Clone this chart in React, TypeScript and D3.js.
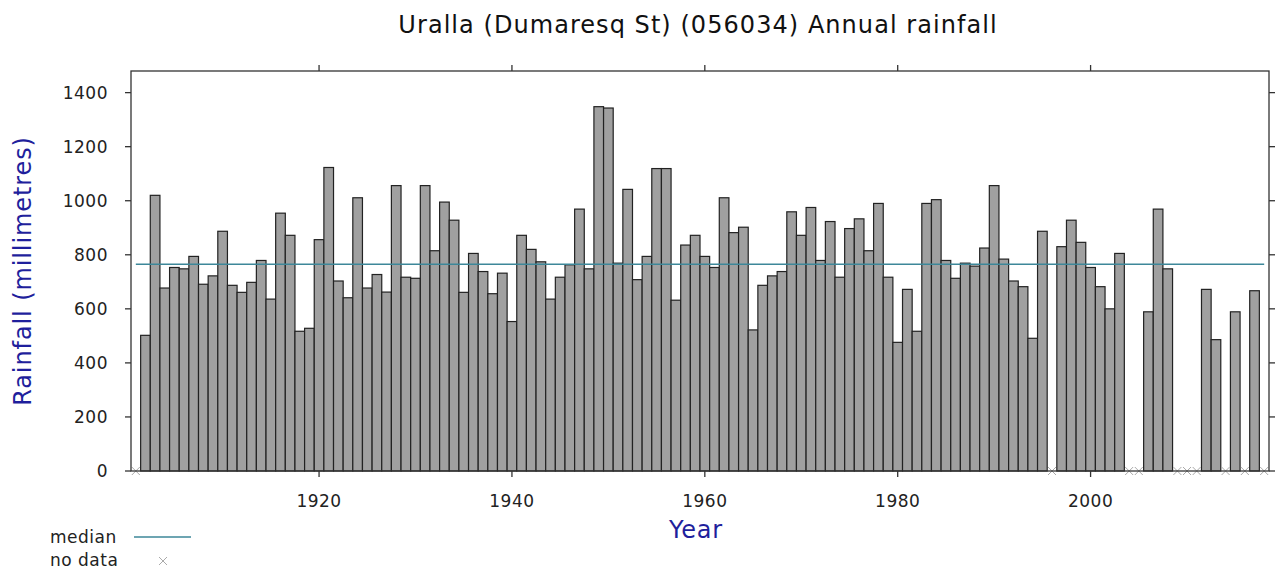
import * as d3 from 'd3';

const TITLE = 'Uralla (Dumaresq St) (056034) Annual rainfall';
const FIRST_YEAR = 1901;
// annual rainfall (mm), 1901..2018, null = no data
const RAINFALL: (number | null)[] = [
  null, 502, 1020, 677, 753, 748, 794, 691, 722, 887,
  687, 661, 698, 779, 636, 954, 872, 517, 528, 856,
  1123, 703, 641, 1011, 677, 727, 662, 1056, 717, 713,
  1056, 815, 995, 928, 661, 805, 738, 656, 732, 553,
  872, 820, 774, 636, 717, 763, 969, 748, 1348, 1343,
  769, 1042, 708, 794, 1119, 1119, 632, 836, 872, 794,
  753, 1011, 882, 902, 522, 687, 722, 738, 959, 872,
  975, 779, 923, 717, 897, 933, 815, 990, 717, 476,
  672, 517, 990, 1004, 779, 713, 769, 758, 825, 1056,
  784, 703, 682, 491, 887, null, 830, 928, 846, 753,
  682, 600, 805, null, null, 589, 969, 748, null, null,
  null, 672, 486, null, 589, null, 667, null,
];
const MEDIAN = 765;
const X_TICKS = [1920, 1940, 1960, 1980, 2000];
const Y_TICKS = [0, 200, 400, 600, 800, 1000, 1200, 1400];

const W = 1276;
const H = 569;
const PLOT = { left: 131, right: 1269, top: 71, bottom: 471 };
const FONT = '"DejaVu Sans", Verdana, sans-serif';
const NAVY = '#1f1f9c';
const FRAME = '#333';

export default function App() {
  const data = RAINFALL.map((v, i) => ({ year: FIRST_YEAR + i, value: v }));
  const lastYear = FIRST_YEAR + RAINFALL.length - 1;

  const x = d3.scaleLinear().domain([FIRST_YEAR - 0.5, lastYear + 0.5]).range([PLOT.left, PLOT.right]);
  const y = d3.scaleLinear().domain([0, 1480]).range([PLOT.bottom, PLOT.top]);

  const present = data.filter((d) => d.value != null);
  const missing = data.filter((d) => d.value == null);

  const cross = (cx: number, cy: number, r: number) =>
    `M${cx - r},${cy - r}L${cx + r},${cy + r}M${cx - r},${cy + r}L${cx + r},${cy - r}`;

  const medianLine = d3.line<number>()
    .x((d) => x(d))
    .y(() => y(MEDIAN))([FIRST_YEAR, lastYear]);

  return (
    <svg
      width={W}
      height={H}
      style={{ position: 'absolute', left: 0, top: 0, background: '#fff' }}
      fontFamily={FONT}
    >
      <text x={698} y={33} textAnchor="middle" fontSize={24} letterSpacing={1.05} fill="#111">
        {TITLE}
      </text>

      {/* bars */}
      {present.map((d) => (
        <rect
          key={d.year}
          x={x(d.year - 0.5)}
          y={y(d.value as number)}
          width={x(d.year + 0.5) - x(d.year - 0.5)}
          height={y(0) - y(d.value as number)}
          fill="#a0a0a0"
          stroke="#222"
          strokeWidth={1.2}
        />
      ))}

      {/* median */}
      <path d={medianLine || ''} stroke="#3d8799" strokeWidth={1.6} fill="none" />

      {/* no data markers */}
      {missing.map((d) => (
        <path key={d.year} d={cross(x(d.year), y(0), 4)} stroke="#aaa" strokeWidth={1} fill="none" />
      ))}

      {/* frame */}
      <rect
        x={PLOT.left}
        y={PLOT.top}
        width={PLOT.right - PLOT.left}
        height={PLOT.bottom - PLOT.top}
        fill="none"
        stroke={FRAME}
        strokeWidth={1.3}
      />

      {/* x ticks */}
      {X_TICKS.map((t) => (
        <g key={t}>
          <line x1={x(t)} x2={x(t)} y1={PLOT.bottom} y2={PLOT.bottom + 6} stroke={FRAME} strokeWidth={1.3} />
          <line x1={x(t)} x2={x(t)} y1={PLOT.top} y2={PLOT.top - 6} stroke={FRAME} strokeWidth={1.3} />
          <text x={x(t)} y={507} textAnchor="middle" fontSize={17} letterSpacing={0.5} fill="#222">
            {t}
          </text>
        </g>
      ))}

      {/* y ticks */}
      {Y_TICKS.map((t) => (
        <g key={t}>
          <line x1={PLOT.left - 6} x2={PLOT.left} y1={y(t)} y2={y(t)} stroke={FRAME} strokeWidth={1.3} />
          <line x1={PLOT.right} x2={PLOT.right + 6} y1={y(t)} y2={y(t)} stroke={FRAME} strokeWidth={1.3} />
          <text x={108} y={y(t) + 6} textAnchor="end" fontSize={17} letterSpacing={0.5} fill="#222">
            {t}
          </text>
        </g>
      ))}

      {/* axis titles */}
      <text
        transform={`translate(31,${(PLOT.top + PLOT.bottom) / 2}) rotate(-90)`}
        textAnchor="middle"
        fontSize={24}
        letterSpacing={0.9}
        fill={NAVY}
      >
        Rainfall (millimetres)
      </text>
      <text x={696} y={538} textAnchor="middle" fontSize={24} letterSpacing={0.8} fill={NAVY}>
        Year
      </text>

      {/* legend */}
      <text x={50} y={543} fontSize={17} letterSpacing={0.5} fill="#222">median</text>
      <line x1={134} x2={191} y1={537} y2={537} stroke="#3d8799" strokeWidth={1.6} />
      <text x={50} y={566} fontSize={17} letterSpacing={0.5} fill="#222">no data</text>
      <path d={cross(163, 561, 4)} stroke="#aaa" strokeWidth={1} fill="none" />
    </svg>
  );
}
